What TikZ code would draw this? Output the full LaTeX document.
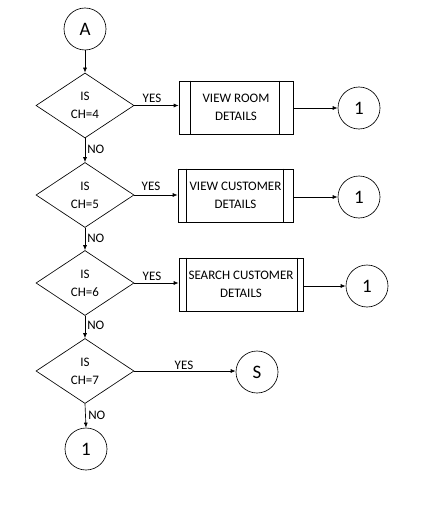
\documentclass[tikz,border=0pt]{standalone}
\usepackage{fontspec}
\setmainfont{Carlito}
\usetikzlibrary{shapes.geometric,arrows.meta,calc}
\begin{document}
\begin{tikzpicture}[x=1pt,y=-1pt,line width=0.65pt,
  every node/.style={font=\fontsize{13}{18}\selectfont},
  conn/.style={circle,draw,minimum size=42pt,inner sep=0pt,font=\fontsize{19}{20}\selectfont},
  decision/.style={diamond,draw,minimum width=98pt,minimum height=65pt,inner sep=0pt,align=center},
  proc/.style={rectangle,draw,inner sep=0pt,minimum height=53pt,align=center},
  arr/.style={-{Latex[length=5pt,width=4pt]}},
  lbl/.style={font=\fontsize{13}{14}\selectfont,inner sep=1pt}]
\useasboundingbox[fill=white] (0,0) rectangle (424,532);
% start connector
\node[conn] (A) at (85,29) {A};
% decisions
\node[decision] (d1) at (85,105.5) {IS\\CH=4};
\node[decision] (d2) at (85,195) {IS\\CH=5};
\node[decision] (d3) at (85,283) {IS\\CH=6};
\node[decision] (d4) at (85,371) {IS\\CH=7};
% processes
\node[proc,minimum width=114pt] (r1) at (236,107.5) {VIEW ROOM\\DETAILS};
\node[proc,minimum width=115pt] (r2) at (235.5,195.5) {VIEW CUSTOMER\\DETAILS};
\node[proc,minimum width=124pt] (r3) at (241,284.5) {SEARCH CUSTOMER\\DETAILS};
\draw ($(r1.north west)+(12,0)$) -- ($(r1.south west)+(12,0)$);
\draw ($(r1.north east)+(-14,0)$) -- ($(r1.south east)+(-14,0)$);
\draw ($(r2.north west)+(9,0)$) -- ($(r2.south west)+(9,0)$);
\draw ($(r2.north east)+(-10,0)$) -- ($(r2.south east)+(-10,0)$);
\draw ($(r3.north west)+(8,0)$) -- ($(r3.south west)+(8,0)$);
\draw ($(r3.north east)+(-6,0)$) -- ($(r3.south east)+(-6,0)$);
% end connectors
\node[conn] (c1) at (359,108) {1};
\node[conn] (c2) at (359,197) {1};
\node[conn] (c3) at (367,286) {1};
\node[conn] (s) at (257,372) {S};
\node[conn] (c4) at (86,449) {1};
% flow
\draw[arr] (A) -- (d1);
\draw[arr] (d1) -- (d2);
\draw[arr] (d2) -- (d3);
\draw[arr] (d3) -- (d4);
\draw[arr] (d4.south) -- (c4.north);
\draw[arr] (d1.east) -- (d1.east -| r1.west);
\draw[arr] (d2.east) -- (d2.east -| r2.west);
\draw[arr] (d3.east) -- (d3.east -| r3.west);
\draw[arr] (d4.east) -- (d4.east -| s.west);
\draw[arr] (r1.east |- c1) -- (c1.west);
\draw[arr] (r2.east |- c2) -- (c2.west);
\draw[arr] (r3.east |- c3) -- (c3.west);
% labels
\node[lbl] (y1) at (152,98) {YES};
\node[lbl] (y2) at (151,186) {YES};
\node[lbl] (y3) at (152,276) {YES};
\node[lbl] (y4) at (184,365) {YES};
\node[lbl,anchor=west] (n1) at (86,149) {NO};
\node[lbl,anchor=west] (n2) at (86,238) {NO};
\node[lbl,anchor=west] (n3) at (86,325) {NO};
\node[lbl,anchor=west] (n4) at (87,415) {NO};
\end{tikzpicture}
\end{document}
